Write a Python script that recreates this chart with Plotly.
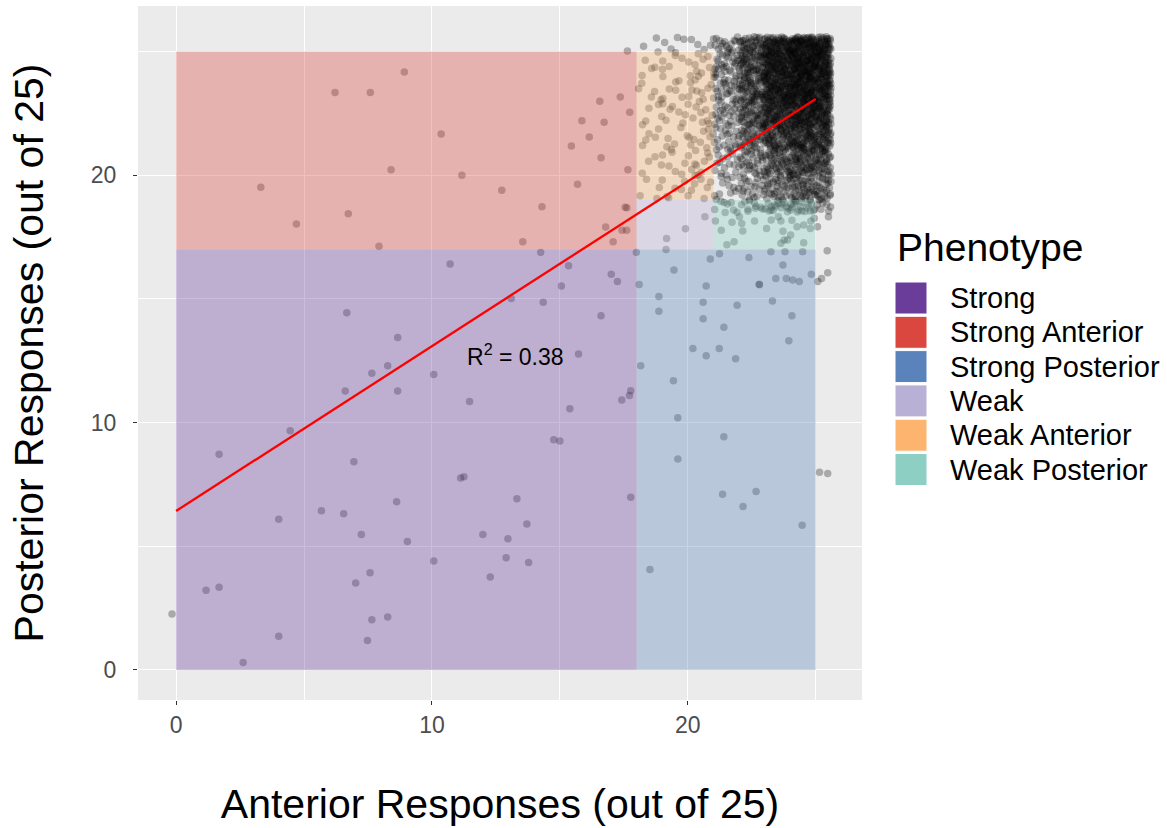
import plotly.graph_objects as go

# ---------------- data ----------------
phenotypes = ["Strong", "Strong Anterior", "Strong Posterior", "Weak", "Weak Anterior", "Weak Posterior"]
phen_colors = ["#6A3D9A", "#D9473F", "#5A83BB", "#B9B0D5", "#FDB46F", "#8DD0C3"]
region_xmin = [0, 0, 18, 18, 18, 21]
region_xmax = [18, 18, 25, 21, 21, 25]
region_ymin = [0, 17, 0, 17, 19, 17]
region_ymax = [17, 25, 17, 19, 25, 19]

# individually readable (jittered) points
sparse_x = [
    3.31, 4.70, 6.21, 7.59, 8.92, 6.73, 7.93, 8.40, 10.36, 11.17, 12.73, 14.30, 13.55, 15.45, 15.86,
    16.15, 15.69, 16.56, 16.73, 16.61, 17.36, 17.64, 17.73, 17.66, 17.55, 17.62, 16.79, 17.08, 17.43, 17.61,
    14.25, 10.71, 15.34, 15.06, 17.01, 17.25, 6.67, 8.66, 8.27, 7.65, 6.61, 8.66, 13.10, 14.35, 16.61,
    15.73, 10.07, 11.47, 15.39, 17.42, 17.72, 17.77, 4.46, 1.68, 6.95, 8.62, 5.68, 6.55, 4.01, 7.24,
    7.58, 7.02, 1.17, 1.68, -0.16, 4.01, 2.62, 7.65, 8.27, 7.48, 14.76, 15.00, 11.12, 11.25, 13.32,
    17.77, 13.71, 11.99, 12.97, 9.04, 10.07, 12.90, 13.78, 12.28,
    17.99, 18.10, 20.72, 22.80, 18.87, 18.87, 20.60, 20.60, 21.93, 23.31, 24.07, 21.41, 23.95, 20.20, 20.72,
    21.23, 21.87, 18.16, 19.44, 19.61, 21.41, 19.61, 21.36, 22.67, 22.16, 24.47, 18.52, 25.15, 25.47,
    20.88, 21.24, 22.39, 23.25, 23.80, 24.49, 23.72, 24.83, 23.44, 23.85, 24.10, 24.36, 22.79, 25.08, 25.47,
    25.23, 25.45, 19.46, 20.67, 19.91, 19.17, 19.15, 25.50,
    21.42, 21.70, 21.79, 21.46, 21.08, 21.31, 21.53, 21.81, 21.73, 22.02, 22.11, 22.15, 22.35, 22.64, 22.61,
    23.08, 23.26, 23.25, 23.43, 23.54, 23.64, 23.72, 23.77, 24.02, 24.07, 24.03, 24.27, 24.46, 24.53, 24.79,
    24.81, 24.79, 25.07, 24.53, 24.94, 23.90, 23.54, 23.85, 24.23, 23.64,
]
sparse_y = [
    19.51, 18.03, 23.34, 23.34, 24.17, 18.44, 17.13, 20.22, 21.67, 20.00, 19.39, 18.73, 17.31, 21.18, 22.20,
    21.54, 19.63, 22.99, 22.14, 20.71, 23.16, 25.02, 22.55, 20.22, 18.70, 18.68, 17.91, 17.31, 17.78, 17.78,
    16.88, 16.41, 16.34, 15.52, 16.00, 15.70, 14.44, 13.44, 12.30, 11.99, 11.28, 11.28, 15.02, 14.86, 14.32,
    12.77, 11.94, 10.85, 10.56, 10.91, 11.10, 11.29, 9.67, 8.72, 8.42, 6.80, 6.44, 6.32, 6.09, 5.48,
    3.93, 3.52, 3.22, 3.34, 2.26, 1.36, 0.30, 2.03, 2.14, 1.19, 9.31, 9.26, 7.76, 7.81, 6.92,
    6.98, 5.90, 5.48, 5.31, 5.19, 4.41, 4.54, 4.35, 3.76,
    16.88, 15.58, 15.52, 15.57, 15.10, 14.50, 14.86, 14.20, 14.74, 14.92, 14.32, 13.85, 13.31, 13.00, 12.70,
    13.00, 12.58, 12.30, 11.69, 10.20, 9.43, 8.53, 7.10, 7.22, 6.61, 5.85, 4.06, 7.99, 7.94,
    16.61, 16.83, 16.67, 16.91, 16.91, 16.91, 16.37, 16.00, 15.83, 15.83, 15.76, 15.70, 15.59, 15.70, 16.06,
    15.83, 16.95, 16.17, 18.32, 17.84, 17.44, 17.00, 18.32,
    18.90, 18.90, 18.59, 18.49, 18.15, 17.78, 17.19, 17.31, 18.10, 18.32, 18.05, 17.75, 18.62, 18.66, 18.15,
    17.85, 18.19, 18.59, 18.73, 18.32, 18.15, 17.73, 17.38, 17.58, 18.18, 18.59, 17.92, 18.55, 17.99, 17.85,
    18.15, 18.55, 17.92, 17.27, 18.26, 17.38, 18.86, 18.73, 18.93, 17.25,
]

# dense top-right cluster: number of respondents per bin (rows bottom->top)
cluster_x_edges = [18, 19, 20, 21, 22, 23, 24, 25, 25.6]
cluster_y_edges = [18.5, 19, 20, 21, 22, 23, 24, 25, 25.6]
cluster_counts = [
    [0, 0, 0, 4, 8, 12, 15, 7],
    [4, 6, 8, 12, 22, 35, 45, 25],
    [4, 6, 9, 16, 30, 48, 60, 33],
    [5, 6, 10, 20, 40, 65, 80, 45],
    [5, 7, 10, 24, 50, 85, 100, 55],
    [5, 7, 10, 27, 58, 100, 115, 62],
    [5, 6, 9, 28, 62, 105, 120, 66],
    [2, 4, 4, 16, 36, 60, 70, 40],
]

# linear fit
fit_x = [0, 25]
fit_y = [6.43, 23.08]
r2_label = "R<sup>2</sup> = 0.38"
r2_pos = (13.27, 12.73)

x_ticks = [0, 10, 20]
y_ticks = [0, 10, 20]


# ---------------- build ----------------
def halton(i, base):
    f, r = 1.0, 0.0
    while i > 0:
        f /= base
        r += f * (i % base)
        i //= base
    return r


# spread binned counts inside their bins (deterministic quasi-random jitter,
# each bin's pattern rotated so neighbouring bins do not line up)
pts_x = list(sparse_x)
pts_y = list(sparse_y)
idx = 1
for i, row in enumerate(cluster_counts):
    y0, y1 = cluster_y_edges[i], cluster_y_edges[i + 1]
    for j, n in enumerate(row):
        x0, x1 = cluster_x_edges[j], cluster_x_edges[j + 1]
        su = halton(i * 8 + j + 1, 5)
        sv = halton(i * 8 + j + 1, 7)
        for k in range(n):
            u = (halton(idx, 2) + su) % 1.0
            v = (halton(idx, 3) + sv) % 1.0
            idx += 1
            pts_x.append(x0 + u * (x1 - x0))
            pts_y.append(y0 + v * (y1 - y0))


def rgba(hexc, a):
    h = hexc.lstrip("#")
    r, g, b = int(h[0:2], 16), int(h[2:4], 16), int(h[4:6], 16)
    return f"rgba({r},{g},{b},{a})"


fig = go.Figure()
fig.add_trace(go.Scatter(
    x=pts_x, y=pts_y, mode="markers",
    marker=dict(size=7.5, color="rgba(0,0,0,0.28)", line=dict(width=0)),
    showlegend=False, hoverinfo="skip"))

for name, col, xa, xb, ya, yb in zip(phenotypes, phen_colors, region_xmin, region_xmax, region_ymin, region_ymax):
    fig.add_trace(go.Scatter(
        x=[xa, xb, xb, xa, xa], y=[ya, ya, yb, yb, ya], mode="lines",
        fill="toself", fillcolor=rgba(col, 0.35),
        line=dict(width=0, color="rgba(0,0,0,0)"),
        name=name, showlegend=False, hoverinfo="skip"))

fig.add_trace(go.Scatter(x=fit_x, y=fit_y, mode="lines",
                         line=dict(color="#FF0000", width=2.3),
                         showlegend=False, hoverinfo="skip"))

fig.add_annotation(x=r2_pos[0], y=r2_pos[1], xref="x", yref="y", text=r2_label,
                   showarrow=False, font=dict(size=23, color="black"))

# ---------------- layout ----------------
W, H = 1167, 828
L, R, T, B = 138, 305, 6, 128
pw, ph = W - L - R, H - T - B


def px2paper(px, py):
    return (px - L) / pw, (H - B - py) / ph


font_family = "Liberation Sans, Arial, sans-serif"
axis_common = dict(
    showgrid=True, gridcolor="white", gridwidth=1.4,
    minor=dict(dtick=5, tick0=0, showgrid=True, gridcolor="white", gridwidth=0.7),
    zeroline=False, showline=False,
    ticks="outside", ticklen=4, tickwidth=1.1, tickcolor="#333333",
    tickfont=dict(size=23, color="#4D4D4D", family=font_family),
)

fig.update_layout(
    width=W, height=H,
    margin=dict(l=L, r=R, t=T, b=B),
    paper_bgcolor="white", plot_bgcolor="#EBEBEB",
    font=dict(family=font_family, color="black"),
    showlegend=False,
    xaxis=dict(range=[-1.49, 26.81], tickvals=x_ticks,
               title=dict(text="Anterior Responses (out of 25)", font=dict(size=41, color="black"), standoff=52),
               **axis_common),
    yaxis=dict(range=[-1.213, 26.84], tickvals=y_ticks, ticklabelstandoff=12,
               title=dict(text="Posterior Responses (out of 25)", font=dict(size=41, color="black"), standoff=34),
               **axis_common),
)

# legend drawn as keys + labels in the right margin
tx, ty = px2paper(895, 247)
fig.add_annotation(x=tx, y=ty, xref="paper", yref="paper", text="Phenotype", showarrow=False,
                   xanchor="left", yanchor="middle", font=dict(size=39, color="black"))
for i, (name, col) in enumerate(zip(phenotypes, phen_colors)):
    top = 282 + i * 34.3
    x0, y0 = px2paper(895, top + 32)
    x1, y1 = px2paper(927, top)
    fig.add_shape(type="rect", xref="paper", yref="paper", x0=x0, x1=x1, y0=y0, y1=y1,
                  fillcolor=col, line=dict(width=1, color="white"))
    lx, ly = px2paper(948, top + 16)
    fig.add_annotation(x=lx, y=ly, xref="paper", yref="paper", text=name, showarrow=False,
                       xanchor="left", yanchor="middle", font=dict(size=29, color="black"))

fig.write_html("out.html")
